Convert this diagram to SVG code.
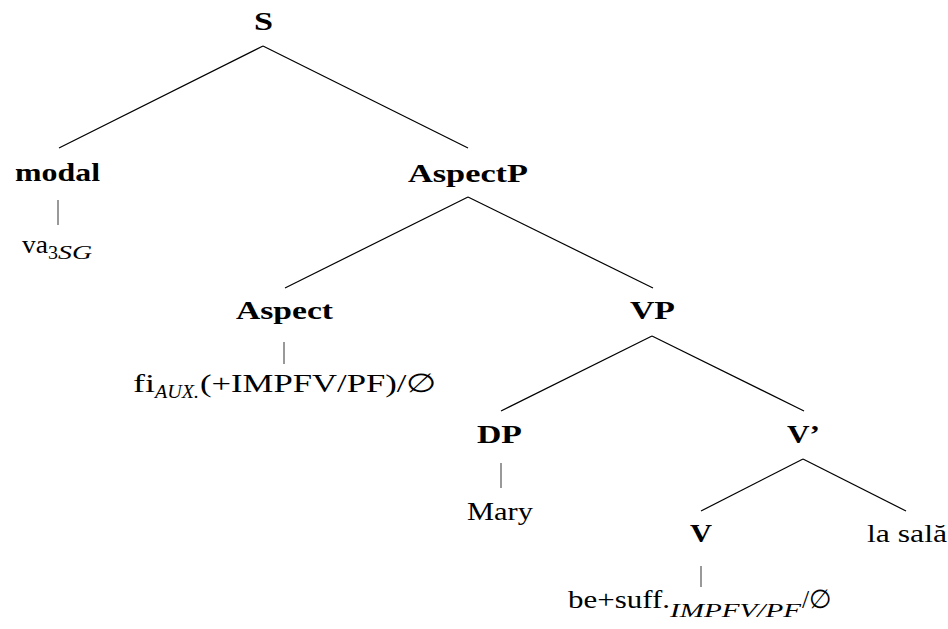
<svg xmlns="http://www.w3.org/2000/svg" width="948" height="629" viewBox="0 0 948 629">
<style>
.b{font-family:'Liberation Serif','DejaVu Serif','Times New Roman',serif;font-weight:bold;font-size:26px;fill:#000}
.r{font-family:'Liberation Serif','DejaVu Serif','Times New Roman',serif;font-size:26px;fill:#000}
.s{font-family:'Liberation Serif','DejaVu Serif','Times New Roman',serif;font-size:18px;fill:#000}
.i{font-style:italic}
.e line{stroke:#000;stroke-width:1.2}
.v line{stroke:#555;stroke-width:1.2}
</style>
<rect width="948" height="629" fill="#fff"/>
<g id="edges" class="e">
<line x1="263" y1="46" x2="59" y2="148"/>
<line x1="263" y1="46" x2="468" y2="148"/>
<line x1="468" y1="197" x2="285" y2="288"/>
<line x1="468" y1="197" x2="653" y2="288"/>
<line x1="652" y1="336" x2="501" y2="411"/>
<line x1="652" y1="336" x2="804" y2="411"/>
<line x1="803" y1="459" x2="701" y2="511"/>
<line x1="803" y1="459" x2="906" y2="511"/>
</g>
<g id="unary" class="v">
<line x1="58" y1="200" x2="58" y2="225"/>
<line x1="284" y1="342" x2="284" y2="364"/>
<line x1="501" y1="463" x2="501" y2="488"/>
<line x1="701" y1="566" x2="701" y2="587"/>
</g>
<g id="S"><text class="b" x="254" y="30" textLength="19" lengthAdjust="spacingAndGlyphs">S</text></g>
<g id="modal"><text class="b" x="15" y="181" textLength="85" lengthAdjust="spacingAndGlyphs">modal</text></g>
<g id="va3SG">
<text class="r" x="22" y="253" textLength="26" lengthAdjust="spacingAndGlyphs">va</text>
<text class="s" x="48" y="259" textLength="10" lengthAdjust="spacingAndGlyphs">3</text>
<text class="s i" x="58" y="259" textLength="34" lengthAdjust="spacingAndGlyphs">SG</text>
</g>
<g id="AspectP"><text class="b" x="408" y="182" textLength="120" lengthAdjust="spacingAndGlyphs">AspectP</text></g>
<g id="Aspect"><text class="b" x="236" y="319" textLength="97" lengthAdjust="spacingAndGlyphs">Aspect</text></g>
<g id="fiAUX">
<text class="r" x="133" y="392" textLength="22" lengthAdjust="spacingAndGlyphs">fi</text>
<text class="s i" x="155" y="398" textLength="44" lengthAdjust="spacingAndGlyphs">AUX.</text>
<text class="r" x="200" y="392" textLength="237" lengthAdjust="spacingAndGlyphs">(+IMPFV/PF)/∅</text>
</g>
<g id="VP"><text class="b" x="630" y="319" textLength="45" lengthAdjust="spacingAndGlyphs">VP</text></g>
<g id="DP"><text class="b" x="477" y="443" textLength="45" lengthAdjust="spacingAndGlyphs">DP</text></g>
<g id="Mary"><text class="r" x="467" y="520" textLength="66" lengthAdjust="spacingAndGlyphs">Mary</text></g>
<g id="Vbar"><text class="b" x="787" y="443" textLength="33" lengthAdjust="spacingAndGlyphs">V’</text></g>
<g id="V"><text class="b" x="690" y="542" textLength="22" lengthAdjust="spacingAndGlyphs">V</text></g>
<g id="lasala"><text class="r" x="867" y="542" textLength="80" lengthAdjust="spacingAndGlyphs">la sală</text></g>
<g id="besuff">
<text class="r" x="568" y="608" textLength="102" lengthAdjust="spacingAndGlyphs">be+suff.</text>
<text class="s i" x="670" y="617" textLength="131" lengthAdjust="spacingAndGlyphs">IMPFV/PF</text>
<text class="r" x="802" y="608" textLength="30" lengthAdjust="spacingAndGlyphs">/∅</text>
</g>
</svg>
